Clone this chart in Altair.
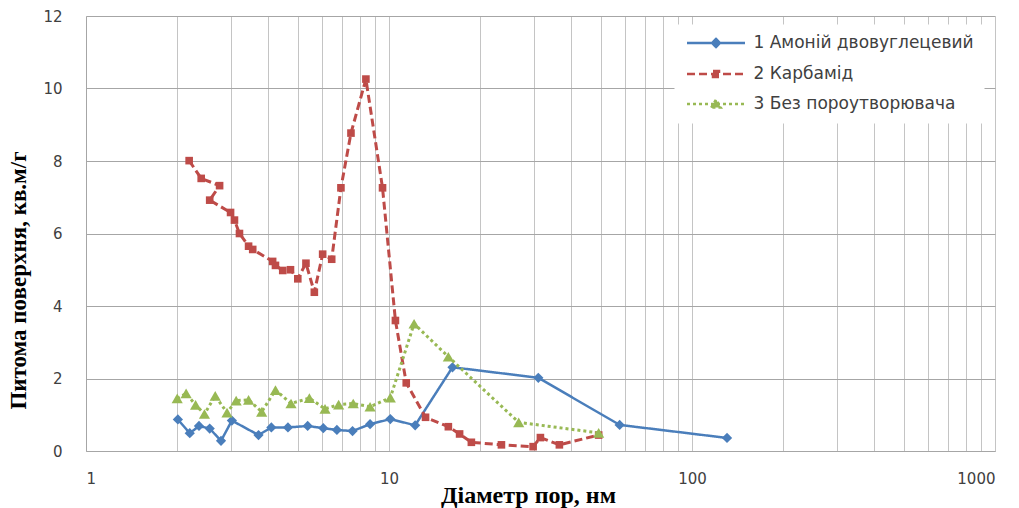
import altair as alt
import pandas as pd

series_names = ["1 Амоній двовуглецевий", "2 Карбамід", "3 Без пороутворювача"]
colors = ["#4A7EBB", "#BE4B48", "#98B954"]

blue_x = [2.01, 2.20, 2.36, 2.56, 2.79, 3.03, 3.71, 4.09, 4.64, 5.39, 6.07, 6.73, 7.58, 8.66, 10.1, 12.2, 16.2, 31.1, 57.7, 130.5]
blue_y = [0.87, 0.49, 0.69, 0.62, 0.28, 0.84, 0.44, 0.65, 0.65, 0.69, 0.63, 0.58, 0.55, 0.74, 0.88, 0.71, 2.31, 2.02, 0.72, 0.36]

red_x = [2.19, 2.40, 2.76, 2.56, 3.00, 3.09, 3.21, 3.44, 3.55, 4.13, 4.22, 4.46, 4.73, 5.00, 5.32, 5.67, 6.04, 6.47,
         6.94, 7.49, 8.39, 9.52, 10.5, 11.4, 13.2, 15.7, 17.1, 18.7, 23.5, 29.9, 31.6, 36.5, 49.2]
red_y = [8.01, 7.52, 7.32, 6.92, 6.58, 6.37, 6.00, 5.65, 5.56, 5.23, 5.12, 4.98, 5.00, 4.75, 5.18, 4.38, 5.43, 5.29,
         7.26, 8.77, 10.26, 7.26, 3.60, 1.88, 0.93, 0.67, 0.47, 0.24, 0.17, 0.12, 0.37, 0.17, 0.44]

green_x = [2.00, 2.14, 2.30, 2.46, 2.67, 2.92, 3.13, 3.44, 3.80, 4.22, 4.75, 5.46, 6.15, 6.82, 7.62, 8.66, 10.1, 12.1,
           15.7, 26.8, 49.2]
green_y = [1.45, 1.59, 1.27, 1.02, 1.52, 1.06, 1.39, 1.41, 1.08, 1.68, 1.31, 1.46, 1.16, 1.28, 1.31, 1.22, 1.47, 3.51,
           2.60, 0.79, 0.50]

x_tick_values = [1, 2, 3, 4, 5, 6, 7, 8, 9, 10, 20, 30, 40, 50, 60, 70, 80, 90,
                 100, 200, 300, 400, 500, 600, 700, 800, 900, 1000]
x_label_values = [1, 10, 100, 1000]
y_tick_values = [0, 2, 4, 6, 8, 10, 12]

x_title = "Діаметр пор, нм"
y_title = "Питома поверхня, кв.м/г"

rows = []
for name, xs, ys in zip(series_names, [blue_x, red_x, green_x], [blue_y, red_y, green_y]):
    for i, (xv, yv) in enumerate(zip(xs, ys)):
        rows.append({"series": name, "d": xv, "s": yv, "idx": i})
df = pd.DataFrame(rows)

dashes = [[1, 0], [8, 4], [3, 3]]
stroke_widths = [2.5, 3, 3]
shapes = ["diamond", "square", "triangle-up"]
sizes = [105, 58, 125]

# legend symbols: line sample with a marker in the middle (units scaled by 4 px)
mx = 5.75
legend_paths = [
    f"M-1.5,0L13,0M{mx-1.0},0L{mx},-1.0L{mx+1.0},0L{mx},1.0Z",
    f"M-1.5,0L13,0M{mx-0.75},-0.75L{mx+0.75},-0.75L{mx+0.75},0.75L{mx-0.75},0.75Z",
    f"M-1.5,0L13,0M{mx-1.2},0.9L{mx},-1.1L{mx+1.2},0.9Z",
]

legend = alt.Legend(
    title=None,
    orient="none",
    legendX=588.5,
    legendY=8.5,
    fillColor="white",
    padding=10,
    labelFont="DejaVu Sans",
    labelFontSize=17,
    labelColor="#404040",
    labelOffset=52,
    labelLimit=400,
    rowPadding=12,
    symbolSize=64,
    symbolStrokeWidth=2.5,
    symbolOpacity=1,
)

x_enc = alt.X(
    "d:Q",
    scale=alt.Scale(type="log", domain=[1, 1000], nice=False),
    axis=alt.Axis(
        values=x_tick_values,
        labelExpr="indexof([1,10,100,1000], datum.value) >= 0 ? format(datum.value, 'd') : ''",
        title=x_title,
        titleFontSize=24,
    ),
)
y_enc = alt.Y(
    "s:Q",
    scale=alt.Scale(domain=[0, 12], nice=False),
    axis=alt.Axis(values=y_tick_values, title=y_title, titleFontSize=23),
)

layers = []
for k, name in enumerate(series_names):
    base = alt.Chart(df).transform_filter(alt.datum.series == name)
    line = base.mark_line(
        strokeWidth=stroke_widths[k], strokeDash=dashes[k], strokeCap="butt", strokeJoin="round",
        color=colors[k],
    ).encode(
        x=x_enc,
        y=y_enc,
        order=alt.Order("idx:Q"),
    )
    pts = base.mark_point(
        filled=True, shape=shapes[k], size=sizes[k], opacity=1, color=colors[k]
    ).encode(x=x_enc, y=y_enc)
    layers += [line, pts]

# legend-only layer (zero-size marks)
legend_layer = alt.Chart(df).mark_point(filled=True, size=0, strokeWidth=2.5).encode(
    x=x_enc,
    y=y_enc,
    color=alt.Color("series:N", scale=alt.Scale(domain=series_names, range=colors), legend=legend),
    stroke=alt.Stroke("series:N", scale=alt.Scale(domain=series_names, range=colors), legend=legend),
    shape=alt.Shape("series:N", scale=alt.Scale(domain=series_names, range=legend_paths), legend=legend),
    strokeDash=alt.StrokeDash("series:N", scale=alt.Scale(domain=series_names, range=dashes), legend=legend),
)
layers.append(legend_layer)

chart = alt.layer(*layers).properties(
    width=909,
    height=435,
    autosize=alt.AutoSizeParams(type="none"),
    padding={"left": 86, "top": 16, "right": 24, "bottom": 57},
).configure_view(stroke=None).configure_axis(
    labelFont="DejaVu Sans",
    labelFontSize=15,
    labelColor="#404040",
    ticks=False,
    tickSize=0,
    domainColor="#a6a6a6",
    titleFont="Liberation Serif",
    titleFontWeight="bold",
    titleColor="black",
).configure_axisX(
    gridColor="#c4c4c4",
    labelPadding=20,
    labelBaseline="top",
    titleX=442,
    titleY=44,
    titleBaseline="middle",
).configure_axisY(
    gridColor="#a6a6a6",
    labelPadding=24,
    titleX=-68,
    titleY=264,
    titleAngle=-90,
    titleAlign="center",
    titleBaseline="middle",
)

chart.save("out.html", embed_options={"renderer": "svg", "actions": False})
